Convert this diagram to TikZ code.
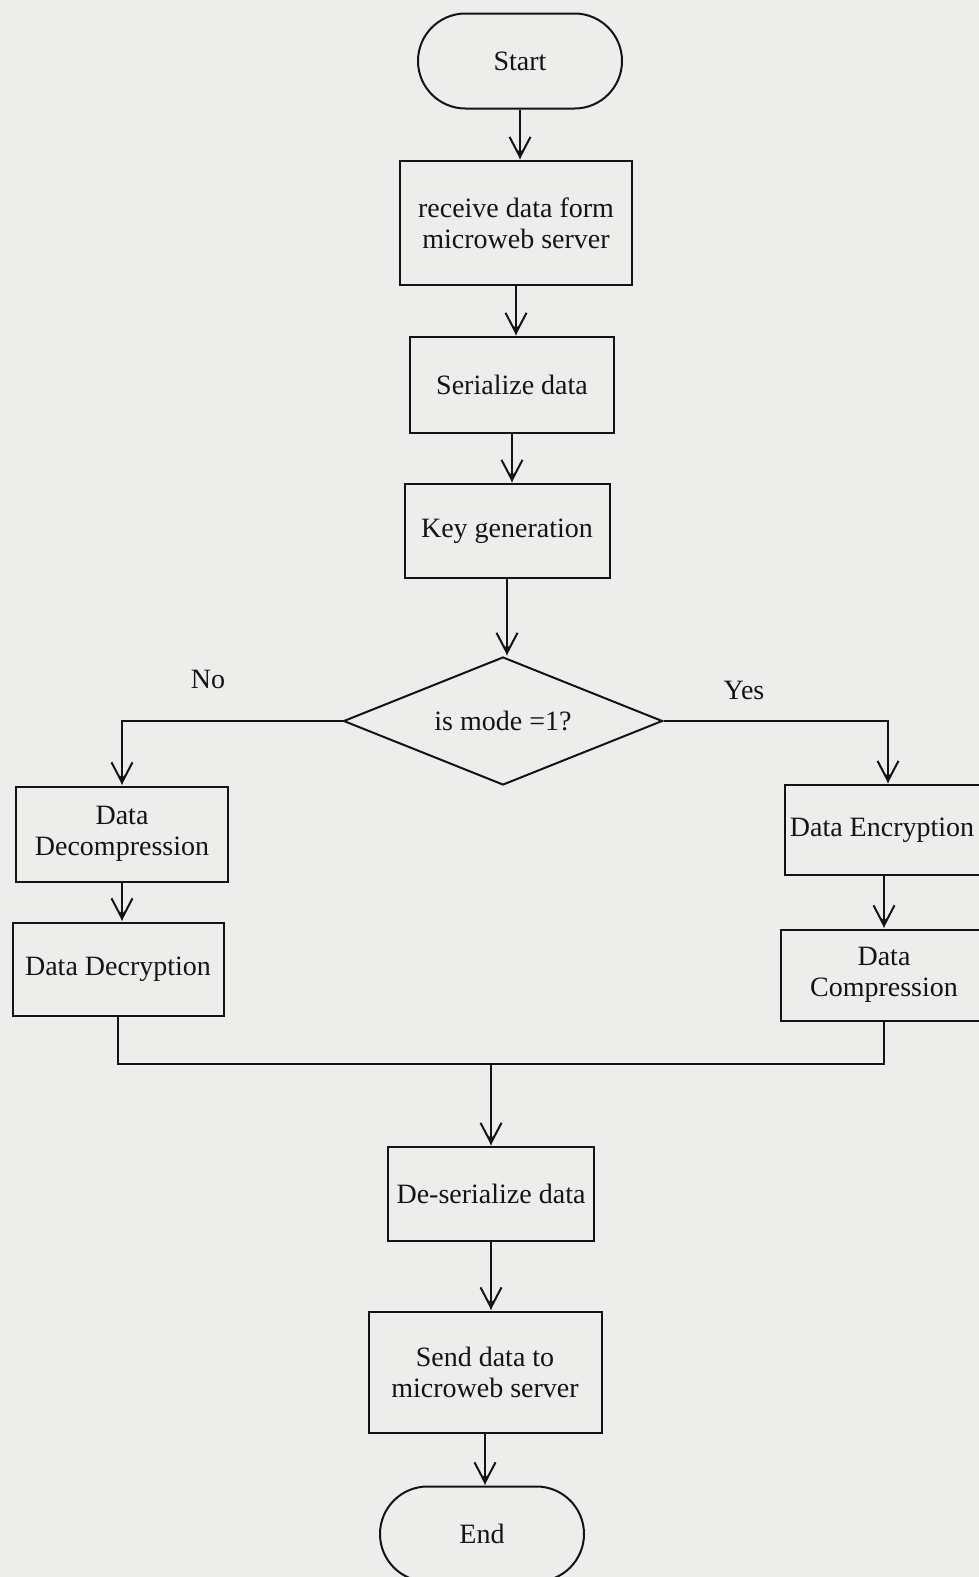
\documentclass[tikz,border=0pt]{standalone}
\usepackage{fontspec}
\setmainfont{Liberation Serif}
\usetikzlibrary{arrows.meta,shapes.geometric,shapes.misc}
\definecolor{paper}{RGB}{237,237,235}
\definecolor{ink}{RGB}{20,20,20}
\tikzset{
  vtip/.tip={Straight Barb[length=20pt,width=21pt,line width=2pt,sep=-9pt]
             Stealth[length=10pt,width=5pt,inset=2pt,fill=ink!75]},
  arr/.style={draw=ink, line width=2pt, -vtip},
  flow/.style={draw=ink, line width=2pt},
  proc/.style={draw=ink, line width=2pt, rectangle, inner sep=0pt},
  term/.style={draw=ink, line width=2pt, rounded rectangle, inner sep=0pt,
               minimum width=204pt, minimum height=95pt},
  decision/.style={draw=ink, line width=2pt, diamond, aspect=2.5, inner sep=0pt,
               minimum width=319pt, minimum height=128pt},
}
\begin{document}
\begin{tikzpicture}[x=1pt,y=-1pt,
  every node/.style={font=\fontsize{28}{31}\selectfont, text=ink, align=center}]
  % page
  \fill[paper] (0,0) rectangle (979,1577);
  \useasboundingbox (0,0) rectangle (979,1577);

  % nodes
  \node[term] (start) at (520,61) {Start};
  \node[proc, minimum width=232pt, minimum height=124pt] (recv) at (516,223)
       {receive data form\\microweb server};
  \node[proc, minimum width=204pt, minimum height=96pt] (ser) at (512,385) {Serialize data};
  \node[proc, minimum width=205pt, minimum height=94pt] (key) at (507,531) {Key generation};
  \node[decision] (mode) at (503,721) {is mode =1?};

  \node[proc, minimum width=212pt, minimum height=95pt] (decomp) at (122,834)
       {Data\\Decompression};
  \node[proc, minimum width=211pt, minimum height=93pt] (decrypt) at (118,969)
       {Data Decryption};

  \node[proc, minimum width=206pt, minimum height=90pt] (encrypt) at (888,830) {};
  \node at (882,830) {Data Encryption};
  \node[proc, minimum width=206pt, minimum height=91pt] (comp) at (884,975)
       {Data\\Compression};

  \node[proc, minimum width=206pt, minimum height=94pt] (deser) at (491,1194)
       {De-serialize data};
  \node[proc, minimum width=233pt, minimum height=121pt] (send) at (485,1372)
       {Send data to\\microweb server};
  \node[term] (stop) at (482,1534) {End};

  % branch labels
  \node (nolbl) at (208,679) {No};
  \node (yeslbl) at (744,690) {Yes};

  % main column
  \draw[arr] (start.south) -- (start.south |- recv.north);
  \draw[arr] (recv.south) -- (recv.south |- ser.north);
  \draw[arr] (ser.south) -- (ser.south |- key.north);
  \draw[arr] (key.south) -- (key.south |- mode.north);

  % branches
  \draw[arr] (mode.west) -| (decomp.north);
  \draw[arr] (mode.east) -| (encrypt.north);
  \draw[arr] (decomp.south) -- (decomp.south |- decrypt.north);
  \draw[arr] (encrypt.south -| comp.north) -- (comp.north);

  % merge back
  \coordinate (joinL) at (decrypt.south |- 0,1064);
  \coordinate (joinR) at (comp.south |- 0,1064);
  \coordinate (joinM) at (deser.north |- 0,1064);
  \draw[flow] (decrypt.south) -- (joinL) -- (joinR) -- (comp.south);
  \draw[arr] (joinM) -- (deser.north);

  \draw[arr] (deser.south) -- (deser.south |- send.north);
  \draw[arr] (send.south) -- (send.south |- stop.north);
\end{tikzpicture}
\end{document}
